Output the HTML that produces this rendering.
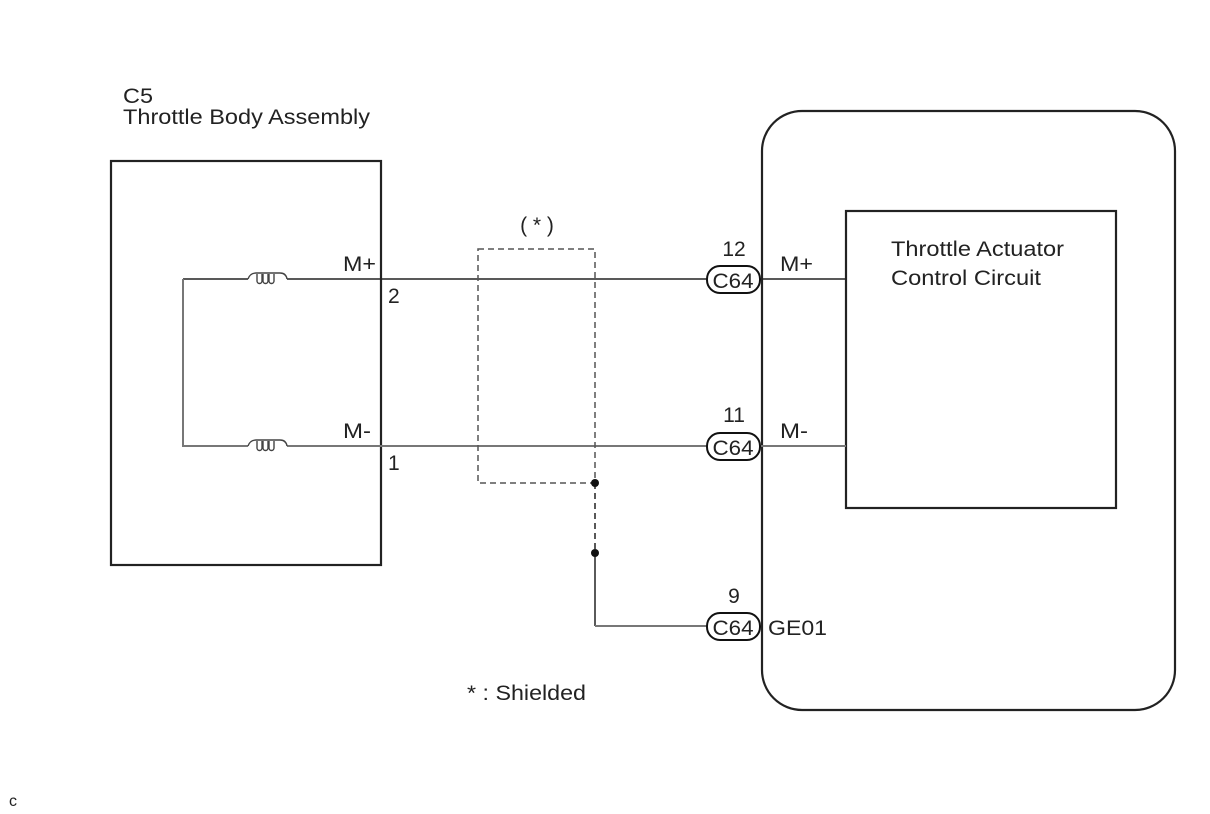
<!DOCTYPE html>
<html><head><meta charset="utf-8"><style>
html,body{margin:0;padding:0;background:#fff;}
svg{display:block;}
text{font-family:"Liberation Sans",Arial,sans-serif;fill:#222;}
</style></head><body>
<svg width="1210" height="814" viewBox="0 0 1210 814" xmlns="http://www.w3.org/2000/svg">
<rect width="1210" height="814" fill="#fff"/>
<text x="123" y="103" font-size="21" textLength="30" lengthAdjust="spacingAndGlyphs">C5</text>
<text x="123" y="124" font-size="21" textLength="247" lengthAdjust="spacingAndGlyphs">Throttle Body Assembly</text>
<rect x="111" y="161" width="270" height="404" fill="none" stroke="#222" stroke-width="2.2"/>
<rect x="762" y="111" width="413" height="599" rx="40" ry="40" fill="none" stroke="#222" stroke-width="2.2"/>
<rect x="846" y="211" width="270" height="297" fill="none" stroke="#222" stroke-width="2.2"/>
<text x="891" y="256" font-size="21" textLength="173" lengthAdjust="spacingAndGlyphs">Throttle Actuator</text>
<text x="891" y="285" font-size="21" textLength="150" lengthAdjust="spacingAndGlyphs">Control Circuit</text>
<path d="M183 279 H248 M287 279 H707" stroke="#222" stroke-width="1.5" fill="none"/>
<path d="M183 279 V446 H248 M287 446 H707" stroke="#777" stroke-width="2" fill="none"/>
<path d="M760 279 H846" stroke="#222" stroke-width="1.5"/>
<path d="M760 446 H846" stroke="#777" stroke-width="2"/>
<g fill="none" stroke="#444" stroke-width="1.4">
<path d="M248 279 Q250 273 256 273 H280 Q286 273 287 279"/>
<path d="M257 274 v7 a2.5 2.5 0 0 0 5 0 v-7 M263 274 v7 a2.5 2.5 0 0 0 5 0 v-7 M269 274 v7 a2.5 2.5 0 0 0 5 0 v-7"/>
<path d="M248 446 Q250 440 256 440 H280 Q286 440 287 446"/>
<path d="M257 441 v7 a2.5 2.5 0 0 0 5 0 v-7 M263 441 v7 a2.5 2.5 0 0 0 5 0 v-7 M269 441 v7 a2.5 2.5 0 0 0 5 0 v-7"/>
</g>
<rect x="478" y="249" width="117" height="234" fill="none" stroke="#555" stroke-width="1.5" stroke-dasharray="6,4"/>
<path d="M595 483 V553" stroke="#222" stroke-width="1.5" stroke-dasharray="6,4"/>
<path d="M595 553 V626" stroke="#222" stroke-width="1.5"/>
<path d="M595 626 H707" stroke="#777" stroke-width="2"/>
<circle cx="595" cy="483" r="4" fill="#111"/>
<circle cx="595" cy="553" r="4" fill="#111"/>
<g fill="#fff" stroke="#111" stroke-width="2">
<rect x="707" y="266" width="53" height="27" rx="13"/>
<rect x="707" y="433" width="53" height="27" rx="13"/>
<rect x="707" y="613" width="53" height="27" rx="13"/>
</g>
<g font-size="21" text-anchor="middle">
<text x="733" y="288" textLength="41" lengthAdjust="spacingAndGlyphs">C64</text>
<text x="733" y="455" textLength="41" lengthAdjust="spacingAndGlyphs">C64</text>
<text x="733" y="635" textLength="41" lengthAdjust="spacingAndGlyphs">C64</text>
<text x="734" y="256">12</text>
<text x="734" y="422">11</text>
<text x="734" y="603">9</text>
<text x="537" y="232">( * )</text>
</g>
<g font-size="21">
<text x="780" y="271" textLength="33" lengthAdjust="spacingAndGlyphs">M+</text>
<text x="780" y="438" textLength="28" lengthAdjust="spacingAndGlyphs">M-</text>
<text x="768" y="635" textLength="59" lengthAdjust="spacingAndGlyphs">GE01</text>
<text x="343" y="271" textLength="33" lengthAdjust="spacingAndGlyphs">M+</text>
<text x="343" y="438" textLength="28" lengthAdjust="spacingAndGlyphs">M-</text>
<text x="388" y="303">2</text>
<text x="388" y="470">1</text>
<text x="467" y="700" textLength="119" lengthAdjust="spacingAndGlyphs">* : Shielded</text>
<text x="9" y="806" font-size="16">c</text>
</g>
</svg>
</body></html>
